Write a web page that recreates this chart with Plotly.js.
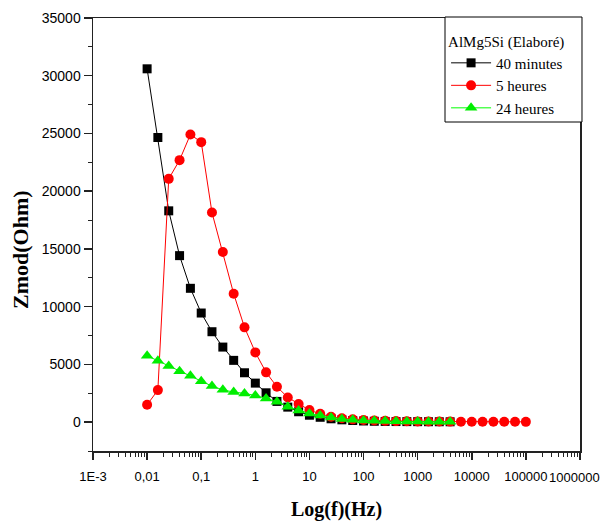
<!DOCTYPE html>
<html>
<head>
<meta charset="utf-8">
<script src="https://cdn.plot.ly/plotly-3.0.1.min.js"></script>
<style>html,body{margin:0;padding:0;background:#fff;}#chart{width:606px;height:524px;}</style>
</head>
<body>
<div id="chart"></div>
<script>
// Frequencies (Hz)
const freqShort = [0.01, 0.0158, 0.0251, 0.0398, 0.0631, 0.1, 0.158, 0.251, 0.398, 0.631,
  1, 1.58, 2.51, 3.98, 6.31, 10, 15.8, 25.1, 39.8, 63.1,
  100, 158, 251, 398, 631, 1000, 1585, 2512, 3981];
const freqLong = [0.01, 0.0158, 0.0251, 0.0398, 0.0631, 0.1, 0.158, 0.251, 0.398, 0.631,
  1, 1.58, 2.51, 3.98, 6.31, 10, 15.8, 25.1, 39.8, 63.1,
  100, 158, 251, 398, 631, 1000, 1585, 2512, 3981, 6310,
  10000, 15850, 25120, 39810, 63100, 100000];

// Zmod (Ohm)
const z40min = [30600, 24650, 18300, 14420, 11590, 9450, 7830, 6500, 5350, 4275,
  3380, 2540, 1795, 1300, 900, 600, 420, 290, 200, 140,
  100, 75, 60, 50, 45, 40, 35, 32, 30];
const z5h = [1500, 2775, 21070, 22690, 24910, 24250, 18150, 14740, 11120, 8210,
  6040, 4310, 3060, 2140, 1560, 1040, 720, 460, 330, 240,
  180, 140, 110, 90, 75, 65, 55, 50, 45, 40,
  35, 32, 30, 28, 27, 25];
const z24h = [5750, 5310, 4855, 4400, 4015, 3550, 3120, 2800, 2600, 2490,
  2310, 2050, 1760, 1330, 1010, 750, 580, 400, 280, 200,
  150, 110, 90, 70, 60, 50, 40, 35, 30];

const seriesNames = ['40 minutes', '5 heures', '24 heures'];
const legendTitle = 'AlMg5Si (Elaboré)';
const xTitle = 'Log(f)(Hz)';
const yTitle = 'Zmod(Ohm)';
const xTickVals = [0.001, 0.01, 0.1, 1, 10, 100, 1000, 10000, 100000, 1000000];
const xTickText = ['1E-3', '0,01', '0,1', '1', '10', '100', '1000', '10000', '100000', ''];
const xLastTickText = '1000000';

const minorVals = [];
for (let e = -3; e < 6; e++) {
  for (let m = 2; m <= 9; m++) minorVals.push(m * Math.pow(10, e));
}

const traces = [
  {x: freqShort, y: z40min, name: seriesNames[0], mode: 'lines+markers',
   line: {color: '#000000', width: 1}, marker: {symbol: 'square', size: 9, color: '#000000'}},
  {x: freqLong, y: z5h, name: seriesNames[1], mode: 'lines+markers',
   line: {color: '#ff0000', width: 1}, marker: {symbol: 'circle', size: 10, color: '#ff0000'}},
  {x: freqShort, y: z24h, name: seriesNames[2], mode: 'lines+markers',
   line: {color: '#00ff00', width: 1}, marker: {symbol: 'triangle-up', size: 11, color: '#00ee00'}}
];

const serif = '"Liberation Serif", "Times New Roman", serif';
const sans = '"Liberation Sans", Arial, sans-serif';

const layout = {
  width: 606, height: 524,
  margin: {l: 93, r: 26, t: 18, b: 73},
  paper_bgcolor: '#fff', plot_bgcolor: '#fff',
  showlegend: true,
  legend: {
    x: 0.725, y: 0.979, xanchor: 'left', yanchor: 'top',
    bgcolor: 'rgba(0,0,0,0)', borderwidth: 0,
    font: {family: serif, size: 15, color: '#000'},
    title: {text: legendTitle, font: {family: serif, size: 15, color: '#000'}},
    tracegroupgap: 0, itemwidth: 40
  },
  shapes: [{
    type: 'rect', xref: 'paper', yref: 'paper', layer: 'above',
    x0: 0.7228, x1: 1.0041, y0: 0.7598, y1: 1.0023,
    fillcolor: '#fff', line: {color: '#000', width: 1}
  }],
  annotations: [
    {text: '<b>' + xTitle + '</b>', xref: 'paper', yref: 'paper', x: 0.5, y: -0.134,
     xanchor: 'center', yanchor: 'middle', showarrow: false,
     font: {family: serif, size: 20, color: '#000'}},
    {text: '<b>' + yTitle + '</b>', xref: 'paper', yref: 'paper', x: -0.15, y: 0.4665,
     xanchor: 'center', yanchor: 'middle', showarrow: false, textangle: -90,
     font: {family: serif, size: 22, color: '#000'}},
    {text: xLastTickText, xref: 'paper', yref: 'paper', x: 1.046, y: -0.061,
     xanchor: 'right', yanchor: 'middle', showarrow: false,
     font: {family: sans, size: 13, color: '#000'}}
  ],
  xaxis: {
    type: 'log', range: [-3, 6.0005],
    tickmode: 'array', tickvals: xTickVals, ticktext: xTickText,
    ticks: 'outside', ticklen: 7, tickwidth: 1.5, tickcolor: '#222',
    ticklabelstandoff: 6,
    minor: {tickmode: 'array', tickvals: minorVals, ticks: 'outside', ticklen: 4, tickwidth: 1, tickcolor: '#222', showgrid: false},
    showline: true, linecolor: '#222', linewidth: 1.5, mirror: true,
    showgrid: false, zeroline: false,
    tickfont: {family: sans, size: 13, color: '#000'}
  },
  yaxis: {
    range: [-2500, 35000],
    tickmode: 'linear', tick0: 0, dtick: 5000, tickformat: 'd',
    ticks: 'outside', ticklen: 8, tickwidth: 1.5, tickcolor: '#222',
    minor: {dtick: 2500, tick0: 0, ticks: 'outside', ticklen: 4, tickwidth: 1, tickcolor: '#222', showgrid: false},
    showline: true, linecolor: '#222', linewidth: 1.5, mirror: true,
    showgrid: false, zeroline: false,
    tickfont: {family: sans, size: 14, color: '#000'}
  }
};

Plotly.newPlot('chart', traces, layout, {displayModeBar: false, staticPlot: true});
</script>
</body>
</html>
